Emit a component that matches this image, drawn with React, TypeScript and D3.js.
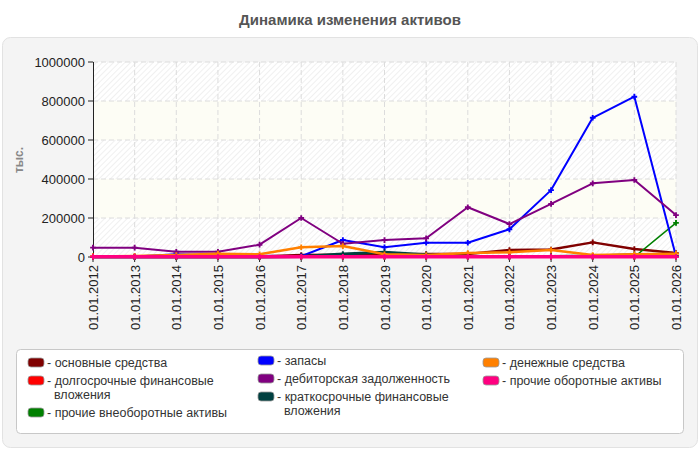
import React from "react";
import * as d3 from "d3";

const dates = [
    "01.01.2012", "01.01.2013", "01.01.2014", "01.01.2015", "01.01.2016",
    "01.01.2017", "01.01.2018", "01.01.2019", "01.01.2020", "01.01.2021",
    "01.01.2022", "01.01.2023", "01.01.2024", "01.01.2025", "01.01.2026",
];

// значения в тыс.
const fixedAssets = [2000, 2000, 2000, 2000, 3000, 10000, 11000, 13000, 15000, 15000, 36000, 38000, 75000, 41000, 20000];
const longTermInvest = [3000, 3000, 3000, 3000, 3000, 3000, 4000, 4000, 4000, 4000, 4000, 4000, 4000, 4000, 4000];
const otherNonCurrent = [0, 0, 0, 0, 0, 0, 0, 0, 0, 0, 0, 0, 0, 0, 175000];
const inventory = [0, 2000, 14000, 9000, 6000, 4000, 87000, 50000, 73000, 73000, 142000, 343000, 714000, 822000, 3000];
const receivables = [48000, 48000, 27000, 27000, 63000, 200000, 68000, 87000, 96000, 255000, 169000, 272000, 378000, 395000, 215000];
const shortTermInvest = [0, 0, 0, 0, 0, 3000, 15000, 25000, 12000, 4000, 3000, 3000, 5000, 12000, 3000];
const cash = [3000, 5000, 10000, 17000, 14000, 50000, 56000, 14000, 10000, 20000, 24000, 36000, 10000, 14000, 17000];
const otherCurrent = [1000, 1000, 1000, 1000, 1000, 1000, 1000, 1000, 1000, 1000, 1000, 1000, 1000, 1000, 1000];

const yTicks = [0, 200000, 400000, 600000, 800000, 1000000];

const series = [
    { name: "основные средства", values: fixedAssets, color: "#800000", width: 2.5, col: 0 },
    { name: "долгосрочные финансовые вложения", values: longTermInvest, color: "#ff0000", width: 2, col: 0 },
    { name: "прочие внеоборотные активы", values: otherNonCurrent, color: "#008000", width: 1.5, col: 0 },
    { name: "запасы", values: inventory, color: "#0000ff", width: 2, col: 1 },
    { name: "дебиторская задолженность", values: receivables, color: "#800080", width: 2, col: 1 },
    { name: "краткосрочные финансовые вложения", values: shortTermInvest, color: "#004040", width: 3, col: 1 },
    { name: "денежные средства", values: cash, color: "#ff8000", width: 2.5, col: 2 },
    { name: "прочие оборотные активы", values: otherCurrent, color: "#ff0080", width: 3.5, col: 2 },
];

const W = 700, H = 450;
const plot = { left: 93, right: 676, top: 62, bottom: 257 };
const font = "Arial, 'Liberation Sans', sans-serif";
const lineH = 14;

// перенос подписи легенды по ширине
let ctx: CanvasRenderingContext2D | null = null;
const wrap = (text: string, maxW: number) => {
    if (!ctx) ctx = document.createElement("canvas").getContext("2d");
    ctx!.font = "13px Arial, 'Liberation Sans'";
    const words = text.split(" ");
    const lines: string[] = [];
    let cur = "";
    words.forEach((w) => {
        const t = cur ? cur + " " + w : w;
        if (ctx!.measureText(t).width > maxW && cur) {
            lines.push(cur);
            cur = w;
        } else cur = t;
    });
    if (cur) lines.push(cur);
    return lines;
};

const App = () => {
    const x = d3.scalePoint().domain(dates).range([plot.left, plot.right]);
    const y = d3.scaleLinear().domain([0, 1000000]).range([plot.bottom, plot.top]);

    const line = d3.line<number>()
        .x((_, i) => x(dates[i])!)
        .y((d) => y(d));

    const marker = d3.symbol().type(d3.symbolCross).size(18)();

    const bands = d3.pairs(yTicks);

    // раскладка легенды по колонкам
    const colX = [28, 258, 483];
    const colY = [0, 0, 0];
    const legendItems = series.map((s) => {
        const lines = wrap("- " + s.name, 215);
        const yy = 362 + colY[s.col] - (s.col === 1 ? 2 : 0);
        colY[s.col] += 18 + (lines.length - 1) * lineH;
        return { ...s, lines, x: colX[s.col], y: yy };
    });

    return (
        <svg width={W} height={H} style={{ position: "absolute", left: 0, top: 0 }} fontFamily={font}>
            <defs>
                <pattern id="hatch" width="4" height="4" patternUnits="userSpaceOnUse" patternTransform="rotate(45)">
                    <rect width="4" height="4" fill="#ffffff" />
                    <line x1="0" y1="0" x2="0" y2="4" stroke="#e6e6e6" strokeWidth="1.2" />
                </pattern>
            </defs>
            <text x={350} y={25} textAnchor="middle" fontSize="15" fontWeight="bold" fill="#555">
                Динамика изменения активов
            </text>
            <rect x={2.5} y={37.5} width={695} height={410} rx={8} fill="#f4f4f4" stroke="#e2e2e2" />

            {bands.map(([a, b], i) => (
                <rect key={i} x={plot.left} y={y(b)} width={plot.right - plot.left} height={y(a) - y(b)}
                    fill={i % 2 === 0 ? "url(#hatch)" : "#fdfdf5"} />
            ))}

            {yTicks.map((t) => (
                <g key={t}>
                    {t > 0 && <line x1={plot.left} x2={plot.right} y1={y(t)} y2={y(t)} stroke="#dcdcdc" strokeDasharray="5,3" />}
                    <line x1={plot.left - 5} x2={plot.left} y1={y(t)} y2={y(t)} stroke="#222" />
                    <text x={plot.left - 8} y={y(t)} dy="0.35em" textAnchor="end" fontSize="13" fill="#222">{t}</text>
                </g>
            ))}
            {dates.map((d) => (
                <g key={d}>
                    {d !== dates[0] && <line x1={x(d)} x2={x(d)} y1={plot.top} y2={plot.bottom} stroke="#dcdcdc" strokeDasharray="5,3" />}
                    <line x1={x(d)} x2={x(d)} y1={plot.bottom} y2={plot.bottom + 5} stroke="#222" />
                    <text transform={`translate(${x(d)! + 5},${plot.bottom + 8}) rotate(-90)`} textAnchor="end"
                        fontSize="13" fill="#222">{d}</text>
                </g>
            ))}
            <line x1={plot.left + 0.5} x2={plot.left + 0.5} y1={plot.top} y2={plot.bottom} stroke="#222" />

            <text transform={`translate(23,160) rotate(-90)`} textAnchor="middle" fontSize="12" fontWeight="bold" fill="#888">
                тыс.
            </text>

            {series.map((s) => (
                <g key={s.name}>
                    <path d={line(s.values)!} fill="none" stroke={s.color} strokeWidth={s.width} strokeLinejoin="round" />
                    {s.values.map((v, i) => (
                        <path key={i} d={marker} transform={`translate(${x(dates[i])},${y(v)})`} fill={s.color} />
                    ))}
                </g>
            ))}

            <rect x={16.5} y={349.5} width={667} height={84} rx={4} fill="#ffffff" stroke="#c8c8c8" />
            {legendItems.map((s) => (
                <g key={s.name}>
                    <rect x={s.x} y={s.y - 4} width={16} height={9} rx={3} fill={s.color} stroke="#999" strokeWidth="0.8" />
                    {s.lines.map((l, i) => (
                        <text key={i} x={i === 0 ? s.x + 19 : s.x + 26} y={s.y + 5 + i * lineH} fontSize="12.5" fill="#333">{l}</text>
                    ))}
                </g>
            ))}
        </svg>
    );
};

export default App;
